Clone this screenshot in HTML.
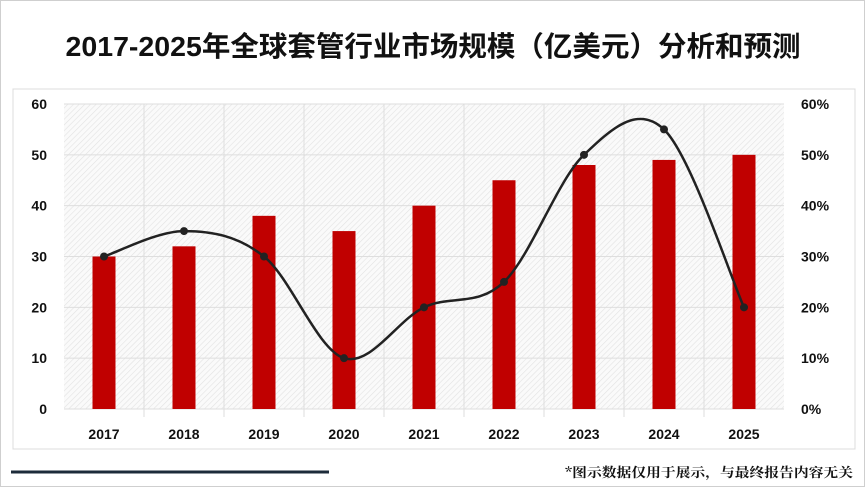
<!DOCTYPE html>
<html><head><meta charset="utf-8"><style>
body{margin:0;width:865px;height:487px;overflow:hidden;background:#fff;font-family:"Liberation Sans","Noto Sans CJK SC",sans-serif;}
#wrap{position:relative;width:863px;height:485px;border:1px solid #cfcfcf;}
</style></head><body>
<div id="wrap">
<svg id="chart" width="863" height="485">
<defs><pattern id="hatch" width="4" height="4" patternUnits="userSpaceOnUse" patternTransform="rotate(45)"><rect width="4" height="4" fill="#fafafa"/><line x1="0" y1="0" x2="0" y2="4" stroke="#e2e2e2" stroke-width="1.2"/></pattern></defs>
<text x="432" y="55" text-anchor="middle" font-size="28" font-weight="bold" fill="#111" textLength="735" lengthAdjust="spacingAndGlyphs">2017-2025年全球套管行业市场规模（亿美元）分析和预测</text>
<rect x="12" y="88" width="842" height="360" fill="#fff" stroke="#dcdcdc"/>
<rect x="63" y="103" width="720" height="305" fill="url(#hatch)"/>
<g id="grid"></g><g id="bars"></g><g id="line"></g><g id="axes"></g>
<line x1="10" y1="471" x2="328" y2="471" stroke="#1d2b3a" stroke-width="3"/>
<text x="852" y="476" text-anchor="end" font-size="13" font-weight="bold" fill="#111" textLength="288" lengthAdjust="spacingAndGlyphs" font-family="'Noto Serif CJK SC',serif">*图示数据仅用于展示，与最终报告内容无关</text>
</svg></div>
<script>
const categories=["2017","2018","2019","2020","2021","2022","2023","2024","2025"];
const barValues=[30,32,38,35,40,45,48,49,50];
const lineValues=[30,35,30,10,20,25,50,55,20];
const leftTicks=[0,10,20,30,40,50,60];
const rightTicks=[0,10,20,30,40,50,60];
const NS="http://www.w3.org/2000/svg";
const X0=63,STEP=80,Y0=408,H=305;
const xc=i=>X0+STEP*i+STEP/2;
const yL=v=>Y0-v/60*H;
const yR=v=>Y0-v/60*H;
function mk(tag,attrs,parent){const e=document.createElementNS(NS,tag);for(const k in attrs)e.setAttribute(k,attrs[k]);document.getElementById(parent).appendChild(e);return e;}
leftTicks.forEach(t=>{const g=mk('line',{x1:X0,x2:X0+STEP*9,y1:yL(t),y2:yL(t),stroke:'#dedede'},'grid');


const l=mk('text',{x:46,y:yL(t)+5,'text-anchor':'end','font-size':14,'font-weight':'bold',fill:'#111'},'axes');l.textContent=t;

});
rightTicks.forEach(t=>{const l=mk('text',{x:800,y:yR(t)+5,'font-size':14,'font-weight':'bold',fill:'#111'},'axes');l.textContent=t+'%';

});
for(let i=1;i<9;i++){const g=mk('line',{x1:X0+STEP*i,x2:X0+STEP*i,y1:103,y2:416,stroke:'#dedede'},'grid');

}
categories.forEach((c,i)=>{const b=mk('rect',{x:xc(i)-11.5,y:yL(barValues[i]),width:23,height:Y0-yL(barValues[i]),fill:'#c00000'},'bars');


const l=mk('text',{x:xc(i),y:438,'text-anchor':'middle','font-size':14,'font-weight':'bold',fill:'#111'},'axes');l.textContent=c;

});
const pts=lineValues.map((v,i)=>[xc(i),yR(v)]);
let d='M'+pts[0][0]+','+pts[0][1];
for(let i=0;i<pts.length-1;i++){const p0=pts[Math.max(0,i-1)],p1=pts[i],p2=pts[i+1],p3=pts[Math.min(pts.length-1,i+2)];const k=1/6;
d+=' C'+(p1[0]+(p2[0]-p0[0])*k)+','+(p1[1]+(p2[1]-p0[1])*k)+' '+(p2[0]-(p3[0]-p1[0])*k)+','+(p2[1]-(p3[1]-p1[1])*k)+' '+p2[0]+','+p2[1];}
const ln=mk('path',{d:d,fill:'none',stroke:'#222',"stroke-width":2.5},'line');


pts.forEach((p,i)=>{const c=mk('circle',{cx:p[0],cy:p[1],r:4,fill:'#222'},'line');

});
</script></body></html>
